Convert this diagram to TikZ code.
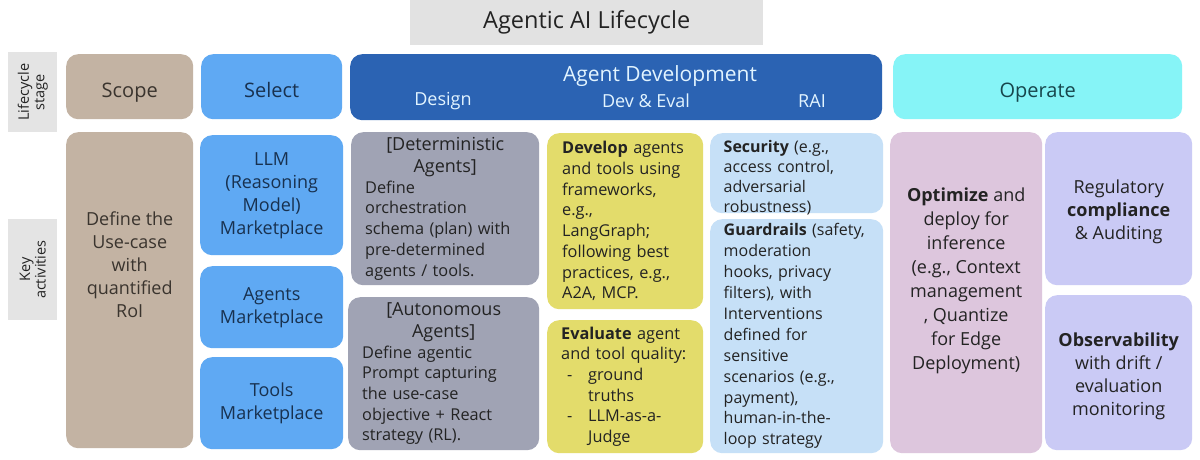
\documentclass[tikz,border=0pt]{standalone}
\usepackage{fontspec}
\setmainfont{Open Sans}
\definecolor{titlec}{HTML}{E2E2E2}
\definecolor{labc}{HTML}{E4E4E4}
\definecolor{scopec}{HTML}{C3B3A3}
\definecolor{selc}{HTML}{5FA9F3}
\definecolor{devc}{HTML}{2B63B3}
\definecolor{opc}{HTML}{86F4F7}
\definecolor{grayc}{HTML}{A0A3B4}
\definecolor{yelc}{HTML}{E3DC6B}
\definecolor{raic}{HTML}{C6E0F7}
\definecolor{optc}{HTML}{DDC6DD}
\definecolor{regc}{HTML}{CACAF5}
\definecolor{txtc}{HTML}{232323}
\definecolor{scopetxt}{HTML}{3A342E}
\definecolor{seltxt}{HTML}{18314F}
\definecolor{devtxt}{HTML}{E2F4FF}
\definecolor{optxt}{HTML}{17464C}
\newcommand\hdrfont{\fontsize{20}{24}\selectfont}
\newcommand\bigfont{\fontsize{18}{23}\selectfont}
\newcommand\midfont{\fontsize{16.3}{20.7}\selectfont}
\newcommand\labfont{\fontsize{14.5}{15.5}\selectfont}
\begin{document}
\begin{tikzpicture}[x=1pt,y=-1pt,
  box/.style={rounded corners=12pt, inner sep=0pt, anchor=north west, draw=none, text=txtc},
  hbox/.style={box, font=\hdrfont, text height=21pt, text depth=0pt},
  cbox/.style={box, align=center, font=\bigfont},
  lbox/.style={box, font=\midfont, inner xsep=0pt},
  lab/.style={fill=labc, inner sep=0pt, anchor=north west, text=txtc},
  plain/.style={inner sep=0pt, text=devtxt}]
\useasboundingbox (0,0) rectangle (1200,460);
\fill[white] (0,0) rectangle (1200,460);

% title
\node[fill=titlec, inner sep=0pt, minimum width=353pt, minimum height=45pt, anchor=north west, font=\fontsize{23.5}{27}\selectfont, text=txtc] (title) at (410,0) {Agentic AI Lifecycle};

% row labels
\node[lab, minimum width=49pt, minimum height=80pt] (stagelab) at (8,52) {};
\node[rotate=90, align=center, font=\labfont, text=txtc] (stagetxt) at (stagelab.center) {Lifecycle\\stage};
\node[lab, minimum width=49pt, minimum height=101pt] (actlab) at (8,219) {};
\node[rotate=90, align=center, font=\labfont, text=txtc] (acttxt) at (actlab.center) {Key\\activities};

% stage row
\node[hbox, fill=scopec, minimum width=127pt, minimum height=65pt, text=scopetxt] (scope) at (66,54) {Scope};
\node[hbox, fill=selc, minimum width=141pt, minimum height=65pt, text=seltxt] (select) at (201,54) {Select};
\node[box, fill=devc, minimum width=532pt, minimum height=66pt] (agentdev) at (350,54) {};
\node[plain, font=\fontsize{21}{25}\selectfont] (devtitle) at (660,76) {Agent Development};
\node[plain, font=\fontsize{18}{22}\selectfont] (design) at (443,101) {Design};
\node[plain, font=\fontsize{18}{22}\selectfont] (deveval) at (646,101) {Dev \& Eval};
\node[plain, font=\fontsize{18}{22}\selectfont] (rai) at (812,101) {RAI};
\node[hbox, fill=opc, minimum width=289pt, minimum height=65pt, text=optxt] (operate) at (893,54) {Operate};

% scope activity
\node[cbox, fill=scopec, text=scopetxt, minimum width=127pt, minimum height=316pt, text depth=52pt] (usecase) at (66,132) {Define the\\Use-case\\with\\quantified\\RoI};

% select activities
\node[cbox, fill=selc, text=seltxt, minimum width=143pt, minimum height=120pt, text height=82pt] (llm) at (200,135) {LLM\\(Reasoning\\Model)\\Marketplace};
\node[cbox, fill=selc, text=seltxt, minimum width=143pt, minimum height=82pt, text height=36pt] (agentsmp) at (200,266) {Agents\\Marketplace};
\node[cbox, fill=selc, text=seltxt, minimum width=143pt, minimum height=92pt, text height=36pt] (toolsmp) at (200,357) {Tools\\Marketplace};

% design
\node[lbox, fill=grayc, minimum width=188pt, minimum height=153pt, text width=160pt] (determ) at (351,132)
 {{\centering\fontsize{18}{22}\selectfont [Deterministic\\Agents]\par}\raggedright Define\\orchestration\\schema (plan) with\\pre-determined\\agents / tools.\par};
\node[lbox, fill=grayc, minimum width=191pt, minimum height=153pt, text width=163pt] (auton) at (348,297)
 {{\centering\fontsize{18}{22}\selectfont [Autonomous\\Agents]\par}\raggedright Define agentic\\Prompt capturing\\the use-case\\objective + React\\strategy (RL).\par};

% dev & eval
\node[lbox, fill=yelc, minimum width=156pt, minimum height=176pt, text width=126pt] (develop) at (547,133)
 {\raggedright\textbf{Develop} agents\\and tools using\\frameworks,\\e.g.,\\LangGraph;\\following best\\practices, e.g.,\\A2A, MCP.\par};
\node[lbox, fill=yelc, minimum width=156pt, minimum height=133pt, text width=128pt] (evaluate) at (547,320)
 {\raggedright\textbf{Evaluate} agent\\and tool quality:\\\makebox[27pt][l]{\hspace*{6pt}-}ground\\\hspace*{27pt}truths\\\makebox[27pt][l]{\hspace*{6pt}-}LLM-as-a-\\\hspace*{27pt}Judge\par};

% RAI
\node[lbox, fill=raic, minimum width=173pt, minimum height=80pt, text width=146pt, font=\fontsize{16}{20}\selectfont] (security) at (710,133)
 {\raggedright\textbf{Security} (e.g.,\\access control,\\adversarial\\robustness)\par\vspace*{-8pt}};
\node[lbox, fill=raic, minimum width=173pt, minimum height=234pt, text width=146pt, font=\fontsize{16}{20.9}\selectfont] (guard) at (710,219)
 {\raggedright\mbox{\textbf{Guardrails} (safety,}\\moderation\\hooks, privacy\\filters), with\\Interventions\\defined for\\sensitive\\scenarios (e.g.,\\payment),\\human-in-the-\\loop strategy\par};

% operate
\node[cbox, fill=optc, minimum width=152pt, minimum height=321pt, font=\fontsize{18}{23.9}\selectfont, text depth=28pt] (optimize) at (890,132)
 {\textbf{Optimize} and\\deploy for\\inference\\(e.g., Context\\management\\, Quantize\\for Edge\\Deployment)};
\node[cbox, fill=regc, minimum width=147pt, minimum height=153pt, text height=66pt] (regul) at (1045,132)
 {Regulatory\\\textbf{compliance}\\\& Auditing};
\node[cbox, fill=regc, minimum width=147pt, minimum height=155pt, text height=89pt] (observ) at (1045,295)
 {\textbf{Observability}\\with drift /\\evaluation\\monitoring};
\end{tikzpicture}
\end{document}
